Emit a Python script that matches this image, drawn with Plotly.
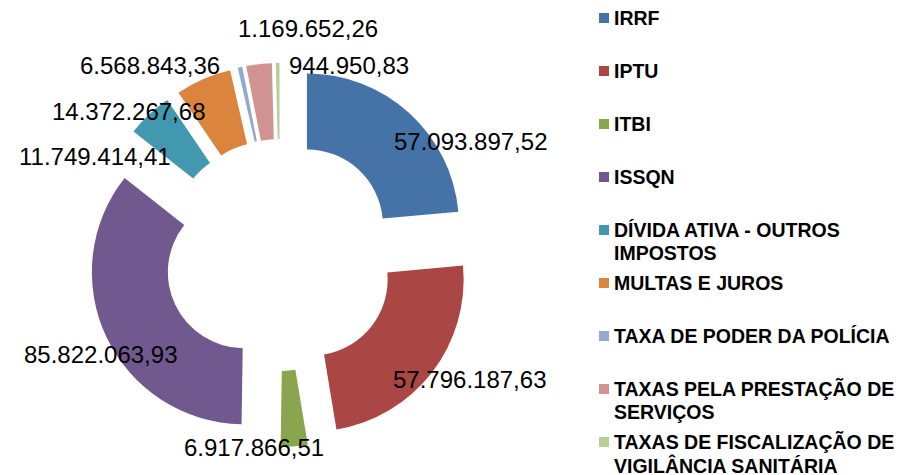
import plotly.graph_objects as go

# ---------------- data ----------------
categories = [
    "IRRF",
    "IPTU",
    "ITBI",
    "ISSQN",
    "DÍVIDA ATIVA - OUTROS IMPOSTOS",
    "MULTAS E JUROS",
    "TAXA DE PODER DA POLÍCIA",
    "TAXAS PELA PRESTAÇÃO DE SERVIÇOS",
    "TAXAS DE FISCALIZAÇÃO DE VIGILÂNCIA SANITÁRIA",
]
legend_labels = [
    "IRRF",
    "IPTU",
    "ITBI",
    "ISSQN",
    "DÍVIDA ATIVA - OUTROS<br>IMPOSTOS",
    "MULTAS E JUROS",
    "TAXA DE PODER DA POLÍCIA",
    "TAXAS PELA PRESTAÇÃO DE<br>SERVIÇOS",
    "TAXAS DE FISCALIZAÇÃO DE<br>VIGILÂNCIA SANITÁRIA",
]
values = [
    57093897.52,
    57796187.63,
    6917866.51,
    85822063.93,
    11749414.41,
    14372267.68,
    1169652.26,
    6568843.36,
    944950.83,
]

# ---------------- styles / layout ----------------
colors = ["#4572A7", "#AA4643", "#89A54E", "#71588F", "#4198AF",
          "#DB843D", "#93A9CF", "#D19392", "#B9CD96"]

W, H = 905, 475
# data-label centres in pixels (x, y from top)
label_pos_px = [(470, 141), (469, 379.5), (254, 447.5), (100.5, 354.5),
                (94.5, 156), (128, 111), (308, 28), (149.5, 66), (349, 66)]
legend_first_y = 18
legend_step = 53
legend_line_gap = 23
legend_text_x = 612
legend_marker_x = (599, 609)
FONT = "Liberation Sans, Arial"


def br_format(v):
    s = f"{v:,.2f}"
    return s.replace(",", "X").replace(".", ",").replace("X", ".")


def px_x(x):
    return x / W


def px_y(y):
    return 1 - y / H


pie_cx, pie_cy, pie_half = 280, 255, 192

fig = go.Figure(
    go.Pie(
        labels=categories,
        values=values,
        hole=0.5,
        pull=[0.263] * len(values),
        sort=False,
        direction="clockwise",
        rotation=0,
        marker=dict(colors=colors, line=dict(width=0)),
        textinfo="none",
        showlegend=False,
        domain=dict(
            x=[px_x(pie_cx - pie_half), px_x(pie_cx + pie_half)],
            y=[px_y(pie_cy + pie_half), px_y(pie_cy - pie_half)],
        ),
    )
)

annotations = []
for v, (lx, ly) in zip(values, label_pos_px):
    annotations.append(dict(
        x=px_x(lx), y=px_y(ly), xref="paper", yref="paper",
        text=br_format(v), showarrow=False,
        xanchor="center", yanchor="middle",
        font=dict(family=FONT, size=24, color="#000000"),
    ))

shapes = []
for i, (name, col) in enumerate(zip(legend_labels, colors)):
    cy = legend_first_y + legend_step * i
    shapes.append(dict(
        type="rect", xref="paper", yref="paper",
        x0=px_x(legend_marker_x[0]), x1=px_x(legend_marker_x[1]),
        y0=px_y(cy + 5), y1=px_y(cy - 5),
        fillcolor=col, line=dict(width=0),
    ))
    for j, line in enumerate(name.split("<br>")):
        ly = cy + legend_line_gap * j
        annotations.append(dict(
            x=px_x(legend_text_x), y=px_y(ly - 13), xref="paper", yref="paper",
            text=line, showarrow=False, align="left",
            xanchor="left", yanchor="top",
            font=dict(family=FONT, size=19.5, color="#000000", weight=700),
        ))

fig.update_layout(
    width=W, height=H,
    margin=dict(l=0, r=0, t=0, b=0),
    paper_bgcolor="white", plot_bgcolor="white",
    font=dict(family=FONT),
    annotations=annotations,
    shapes=shapes,
    showlegend=False,
)

fig.write_html(
    "out.html",
    config={"displayModeBar": False},
    post_script="document.body.style.margin='0';document.body.style.overflow='hidden';",
)
